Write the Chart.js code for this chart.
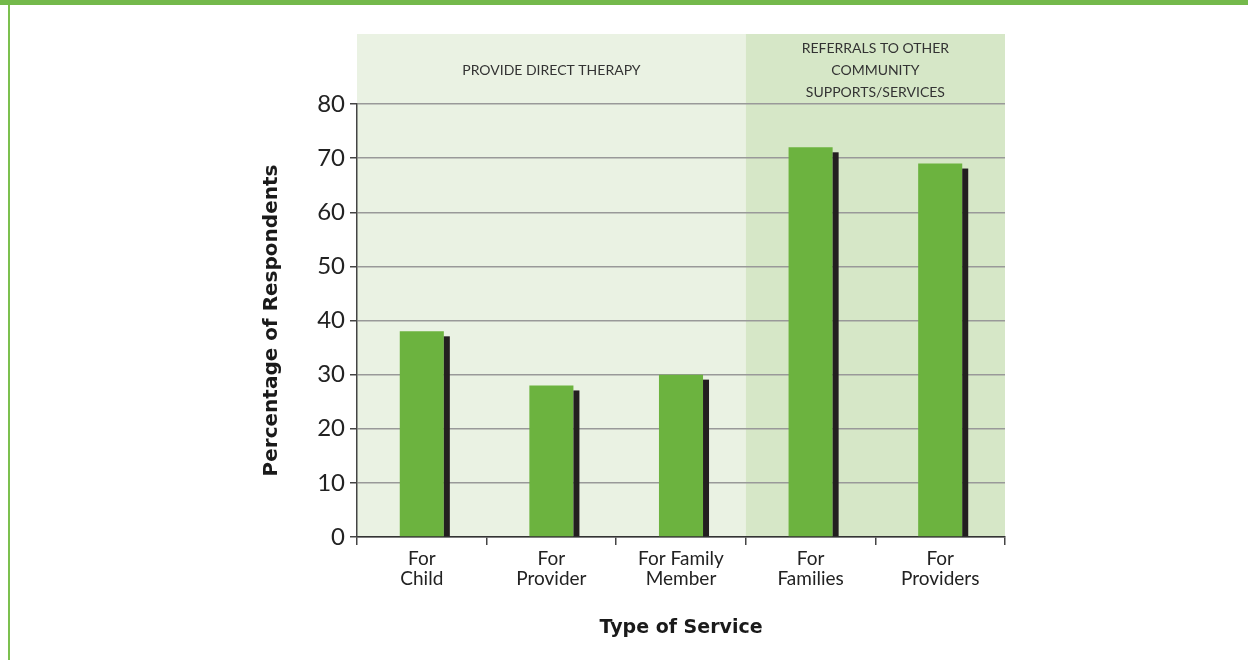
<!DOCTYPE html>
<html>
<head>
<meta charset="utf-8">
<script src="https://cdn.jsdelivr.net/npm/chart.js@4.4.1/dist/chart.umd.min.js"></script>
<style>
  html, body { margin: 0; padding: 0; background: #fff; }
  #wrap { position: relative; width: 1248px; height: 660px; overflow: hidden; }
  #band { position: absolute; left: 0; top: 0; width: 1248px; height: 5px; background: #74b94b; }
  #rule { position: absolute; left: 8px; top: 5px; width: 2px; height: 655px; background: #7cc04f; }
  canvas { position: absolute; left: 0; top: 0; }
</style>
</head>
<body>
<div id="wrap">
  <canvas id="chart" width="1248" height="660"></canvas>
  <div id="band"></div>
  <div id="rule"></div>
</div>
<script>
const categories = [
    ['For', 'Child'],
    ['For', 'Provider'],
    ['For Family', 'Member'],
    ['For', 'Families'],
    ['For', 'Providers']
];
const percentages = [38, 28, 30, 72, 69];
const yTicks = [0, 10, 20, 30, 40, 50, 60, 70, 80];

// groups shaded behind the bars: first/last category index
const sectionLabels = [
    ['PROVIDE DIRECT THERAPY'],
    ['REFERRALS TO OTHER', 'COMMUNITY', 'SUPPORTS/SERVICES']
];
const sectionStart = [0, 3];
const sectionEnd = [2, 4];
const sectionColors = ['#eaf2e3', '#d6e7c7'];

const FONT = 'Lato, "Open Sans", sans-serif';
const BOLD = '"DejaVu Sans", sans-serif';

const sectionPlugin = {
    id: 'sections',
    beforeDraw(chart) {
        const { ctx, chartArea, scales: { x } } = chart;
        const half = (x.getPixelForValue(1) - x.getPixelForValue(0)) / 2;
        const top = chartArea.top - 70;
        ctx.save();
        sectionLabels.forEach((lines, i) => {
            const left = x.getPixelForValue(sectionStart[i]) - half;
            const right = x.getPixelForValue(sectionEnd[i]) + half;
            ctx.fillStyle = sectionColors[i];
            ctx.fillRect(left, top, right - left, chartArea.bottom - top);
            ctx.fillStyle = '#333';
            ctx.font = '14px ' + FONT;
            ctx.textAlign = 'center';
            ctx.textBaseline = 'middle';
            const cx = (left + right) / 2;
            const step = 22;
            const startY = top + 36 - (lines.length - 1) * step / 2;
            lines.forEach((t, j) => ctx.fillText(t, cx, startY + j * step));
        });
        ctx.restore();
    }
};

// dark sliver on the right of every bar
const shadowPlugin = {
    id: 'barShadow',
    afterDatasetsDraw(chart) {
        const { ctx } = chart;
        const meta = chart.getDatasetMeta(0);
        ctx.save();
        ctx.fillStyle = '#231f20';
        meta.data.forEach(bar => {
            const p = bar.getProps(['x', 'y', 'base', 'width'], true);
            ctx.fillRect(p.x + p.width / 2, p.y + 5, 6, p.base - p.y - 5);
        });
        ctx.restore();
    }
};

new Chart(document.getElementById('chart'), {
    type: 'bar',
    data: {
        labels: categories,
        datasets: [{
            data: percentages,
            backgroundColor: '#6cb33f',
            borderWidth: 0,
            categoryPercentage: 1,
            barPercentage: 0.34
        }]
    },
    options: {
        responsive: false,
        animation: false,
        events: [],
        layout: { padding: { left: 255, top: 104, right: 243, bottom: 0 } },
        plugins: { legend: { display: false }, tooltip: { enabled: false } },
        scales: {
            x: {
                afterFit(scale) { scale.height = 123; },
                grid: {
                    drawOnChartArea: false,
                    drawTicks: true,
                    tickLength: 8,
                    color: '#444',
                    lineWidth: 1.5
                },
                border: { color: '#333', width: 1.5 },
                ticks: {
                    color: '#222',
                    padding: 4,
                    font: { family: FONT, size: 19, weight: 400, lineHeight: 1.05 }
                },
                title: {
                    display: true,
                    text: 'Type of Service',
                    color: '#1a1a1a',
                    font: { family: BOLD, size: 19, weight: 'bold' },
                    padding: { top: 0, bottom: 21 }
                }
            },
            y: {
                min: 0,
                max: 80,
                afterFit(scale) { scale.width = 102; },
                afterBuildTicks(scale) { scale.ticks = yTicks.map(v => ({ value: v })); },
                grid: {
                    color: '#999',
                    lineWidth: 1.5,
                    tickColor: '#444',
                    tickLength: 7
                },
                border: { color: '#444', width: 1.5 },
                ticks: {
                    color: '#222',
                    padding: 5,
                    font: { family: FONT, size: 24, weight: 400 }
                },
                title: {
                    display: true,
                    text: 'Percentage of Respondents',
                    color: '#1a1a1a',
                    font: { family: BOLD, size: 20, weight: 'bold' },
                    padding: { top: 5, bottom: 0 }
                }
            }
        }
    },
    plugins: [sectionPlugin, shadowPlugin]
});
</script>
</body>
</html>
